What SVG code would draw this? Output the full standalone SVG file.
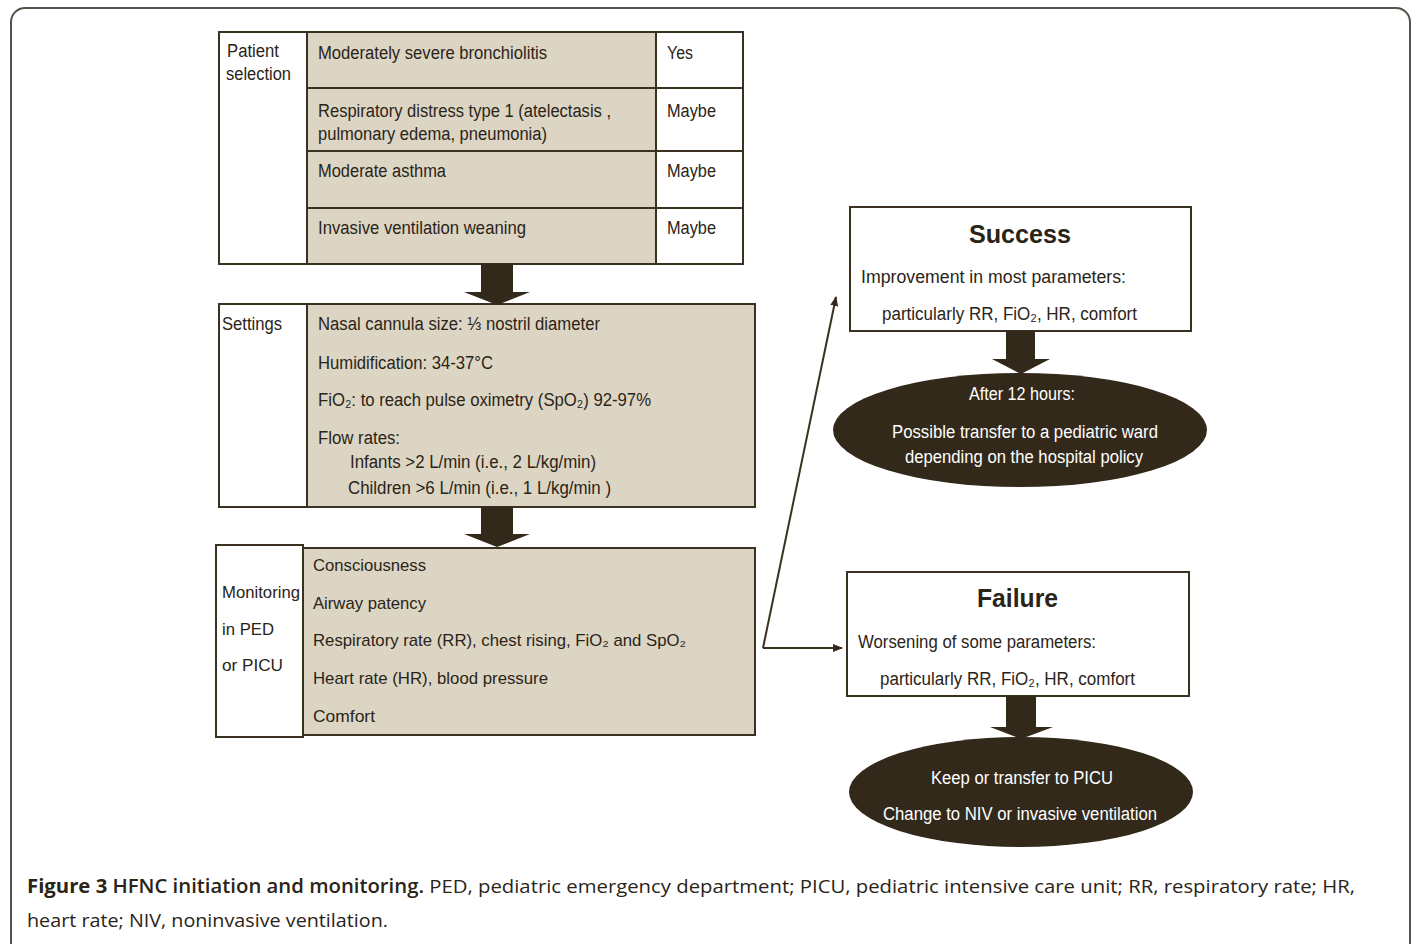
<svg xmlns="http://www.w3.org/2000/svg" width="1417" height="944" viewBox="0 0 1417 944">
<style>
.t{font-family:"Liberation Sans",Arial,"DejaVu Sans",sans-serif;font-size:18px;fill:#2a2418}
.m{font-size:17px}
.w{fill:#ffffff}
.b{font-weight:bold;font-size:26px}
.cap{font-family:"Open Sans","Noto Sans","Liberation Sans",sans-serif;font-size:19px;fill:#2a2418}
.box{fill:#ffffff;stroke:#3a3122;stroke-width:2}
.bg{fill:#ddd5c3;stroke:#3a3122;stroke-width:2}
.ln{stroke:#3a3122;stroke-width:2;fill:none}
.blk{fill:#33291a}
</style>
<defs>
<marker id="ah" viewBox="0 0 10 10" refX="9" refY="5" markerWidth="10" markerHeight="10" markerUnits="userSpaceOnUse" orient="auto">
<path d="M0,1 L10,5 L0,9 Z" fill="#33291a"/>
</marker>
</defs>
<rect x="11" y="8" width="1399" height="950" rx="14" fill="#ffffff" stroke="#555048" stroke-width="2"/>

<g id="patient-selection">
<rect class="box" x="219" y="32" width="524" height="232"/>
<rect class="bg" x="307" y="32" width="349" height="232"/>
<line class="ln" x1="307" y1="88" x2="743" y2="88"/>
<line class="ln" x1="307" y1="151" x2="743" y2="151"/>
<line class="ln" x1="307" y1="208" x2="743" y2="208"/>
<text class="t" x="227" y="57" textLength="52" lengthAdjust="spacingAndGlyphs">Patient</text>
<text class="t" x="226" y="80" textLength="65" lengthAdjust="spacingAndGlyphs">selection</text>
<text class="t" x="318" y="59" textLength="229" lengthAdjust="spacingAndGlyphs">Moderately severe bronchiolitis</text>
<text class="t" x="667" y="59" textLength="26" lengthAdjust="spacingAndGlyphs">Yes</text>
<text class="t" x="318" y="117" textLength="293" lengthAdjust="spacingAndGlyphs">Respiratory distress type 1 (atelectasis ,</text>
<text class="t" x="318" y="140" textLength="229" lengthAdjust="spacingAndGlyphs">pulmonary edema, pneumonia)</text>
<text class="t" x="667" y="117" textLength="49" lengthAdjust="spacingAndGlyphs">Maybe</text>
<text class="t" x="318" y="177" textLength="128" lengthAdjust="spacingAndGlyphs">Moderate asthma</text>
<text class="t" x="667" y="177" textLength="49" lengthAdjust="spacingAndGlyphs">Maybe</text>
<text class="t" x="318" y="234" textLength="208" lengthAdjust="spacingAndGlyphs">Invasive ventilation weaning</text>
<text class="t" x="667" y="234" textLength="49" lengthAdjust="spacingAndGlyphs">Maybe</text>
</g>

<g id="settings">
<rect class="box" x="219" y="304" width="536" height="203"/>
<rect class="bg" x="307" y="304" width="448" height="203"/>
<text class="t" x="222" y="330" textLength="60" lengthAdjust="spacingAndGlyphs">Settings</text>
<text class="t" x="318" y="330" textLength="282" lengthAdjust="spacingAndGlyphs">Nasal cannula size: ⅓ nostril diameter</text>
<text class="t" x="318" y="369" textLength="175" lengthAdjust="spacingAndGlyphs">Humidification: 34-37°C</text>
<text class="t" x="318" y="406" textLength="333" lengthAdjust="spacingAndGlyphs">FiO₂: to reach pulse oximetry (SpO₂) 92-97%</text>
<text class="t" x="318" y="444" textLength="82" lengthAdjust="spacingAndGlyphs">Flow rates:</text>
<text class="t" x="350" y="468" textLength="246" lengthAdjust="spacingAndGlyphs">Infants &gt;2 L/min (i.e., 2 L/kg/min)</text>
<text class="t" x="348" y="494" textLength="263" lengthAdjust="spacingAndGlyphs">Children &gt;6 L/min (i.e., 1 L/kg/min )</text>
</g>

<g id="monitoring">
<rect class="box" x="216" y="545" width="87" height="192"/>
<rect class="bg" x="303" y="548" width="452" height="187"/>
<text class="t m" x="222" y="598" textLength="78" lengthAdjust="spacingAndGlyphs">Monitoring</text>
<text class="t m" x="222" y="635" textLength="52" lengthAdjust="spacingAndGlyphs">in PED</text>
<text class="t m" x="222" y="671" textLength="61" lengthAdjust="spacingAndGlyphs">or PICU</text>
<text class="t m" x="313" y="571" textLength="113" lengthAdjust="spacingAndGlyphs">Consciousness</text>
<text class="t m" x="313" y="609" textLength="113" lengthAdjust="spacingAndGlyphs">Airway patency</text>
<text class="t m" x="313" y="646" textLength="373" lengthAdjust="spacingAndGlyphs">Respiratory rate (RR), chest rising, FiO₂ and SpO₂</text>
<text class="t m" x="313" y="684" textLength="235" lengthAdjust="spacingAndGlyphs">Heart rate (HR), blood pressure</text>
<text class="t m" x="313" y="722" textLength="62" lengthAdjust="spacingAndGlyphs">Comfort</text>
</g>

<g id="success">
<rect class="box" x="850" y="207" width="341" height="124"/>
<text class="t b" x="969" y="243" textLength="102" lengthAdjust="spacingAndGlyphs">Success</text>
<text class="t" x="861" y="283" textLength="265" lengthAdjust="spacingAndGlyphs">Improvement in most parameters:</text>
<text class="t" x="882" y="320" textLength="255" lengthAdjust="spacingAndGlyphs">particularly RR, FiO₂, HR, comfort</text>
</g>

<g id="success-outcome">
<ellipse class="blk" cx="1020" cy="430" rx="187" ry="57"/>
<text class="t w" x="969" y="400" textLength="106" lengthAdjust="spacingAndGlyphs">After 12 hours:</text>
<text class="t w" x="892" y="438" textLength="266" lengthAdjust="spacingAndGlyphs">Possible transfer to a pediatric ward</text>
<text class="t w" x="905" y="463" textLength="238" lengthAdjust="spacingAndGlyphs">depending on the hospital policy</text>
</g>

<g id="failure">
<rect class="box" x="847" y="572" width="342" height="124"/>
<text class="t b" x="977" y="607" textLength="81" lengthAdjust="spacingAndGlyphs">Failure</text>
<text class="t" x="858" y="648" textLength="238" lengthAdjust="spacingAndGlyphs">Worsening of some parameters:</text>
<text class="t" x="880" y="685" textLength="255" lengthAdjust="spacingAndGlyphs">particularly RR, FiO₂, HR, comfort</text>
</g>

<g id="failure-outcome">
<ellipse class="blk" cx="1021" cy="792" rx="172" ry="55"/>
<text class="t w" x="931" y="784" textLength="182" lengthAdjust="spacingAndGlyphs">Keep or transfer to PICU</text>
<text class="t w" x="883" y="820" textLength="274" lengthAdjust="spacingAndGlyphs">Change to NIV or invasive ventilation</text>
</g>

<g id="connectors">
<polygon class="blk" points="481,264 513,264 513,292 530,292 497,305 464,292 481,292"/>
<polygon class="blk" points="481,507 513,507 513,534 530,534 497,547 464,534 481,534"/>
<polygon class="blk" points="1006,331 1035,331 1035,359 1050,359 1021,374 992,359 1006,359"/>
<polygon class="blk" points="1006,696 1036,696 1036,727 1053,727 1021,739 990,727 1006,727"/>
<path class="ln" d="M763,648 L836,297" marker-end="url(#ah)"/>
<path class="ln" d="M763,648 L842,648" marker-end="url(#ah)"/>
</g>

<g id="caption">
<text class="cap" x="27" y="893" textLength="1328" lengthAdjust="spacingAndGlyphs"><tspan font-weight="bold">Figure 3</tspan> <tspan font-weight="600">HFNC initiation and monitoring.</tspan> PED, pediatric emergency department; PICU, pediatric intensive care unit; RR, respiratory rate; HR,</text>
<text class="cap" x="27" y="927" textLength="361" lengthAdjust="spacingAndGlyphs">heart rate; NIV, noninvasive ventilation.</text>
</g>
</svg>
